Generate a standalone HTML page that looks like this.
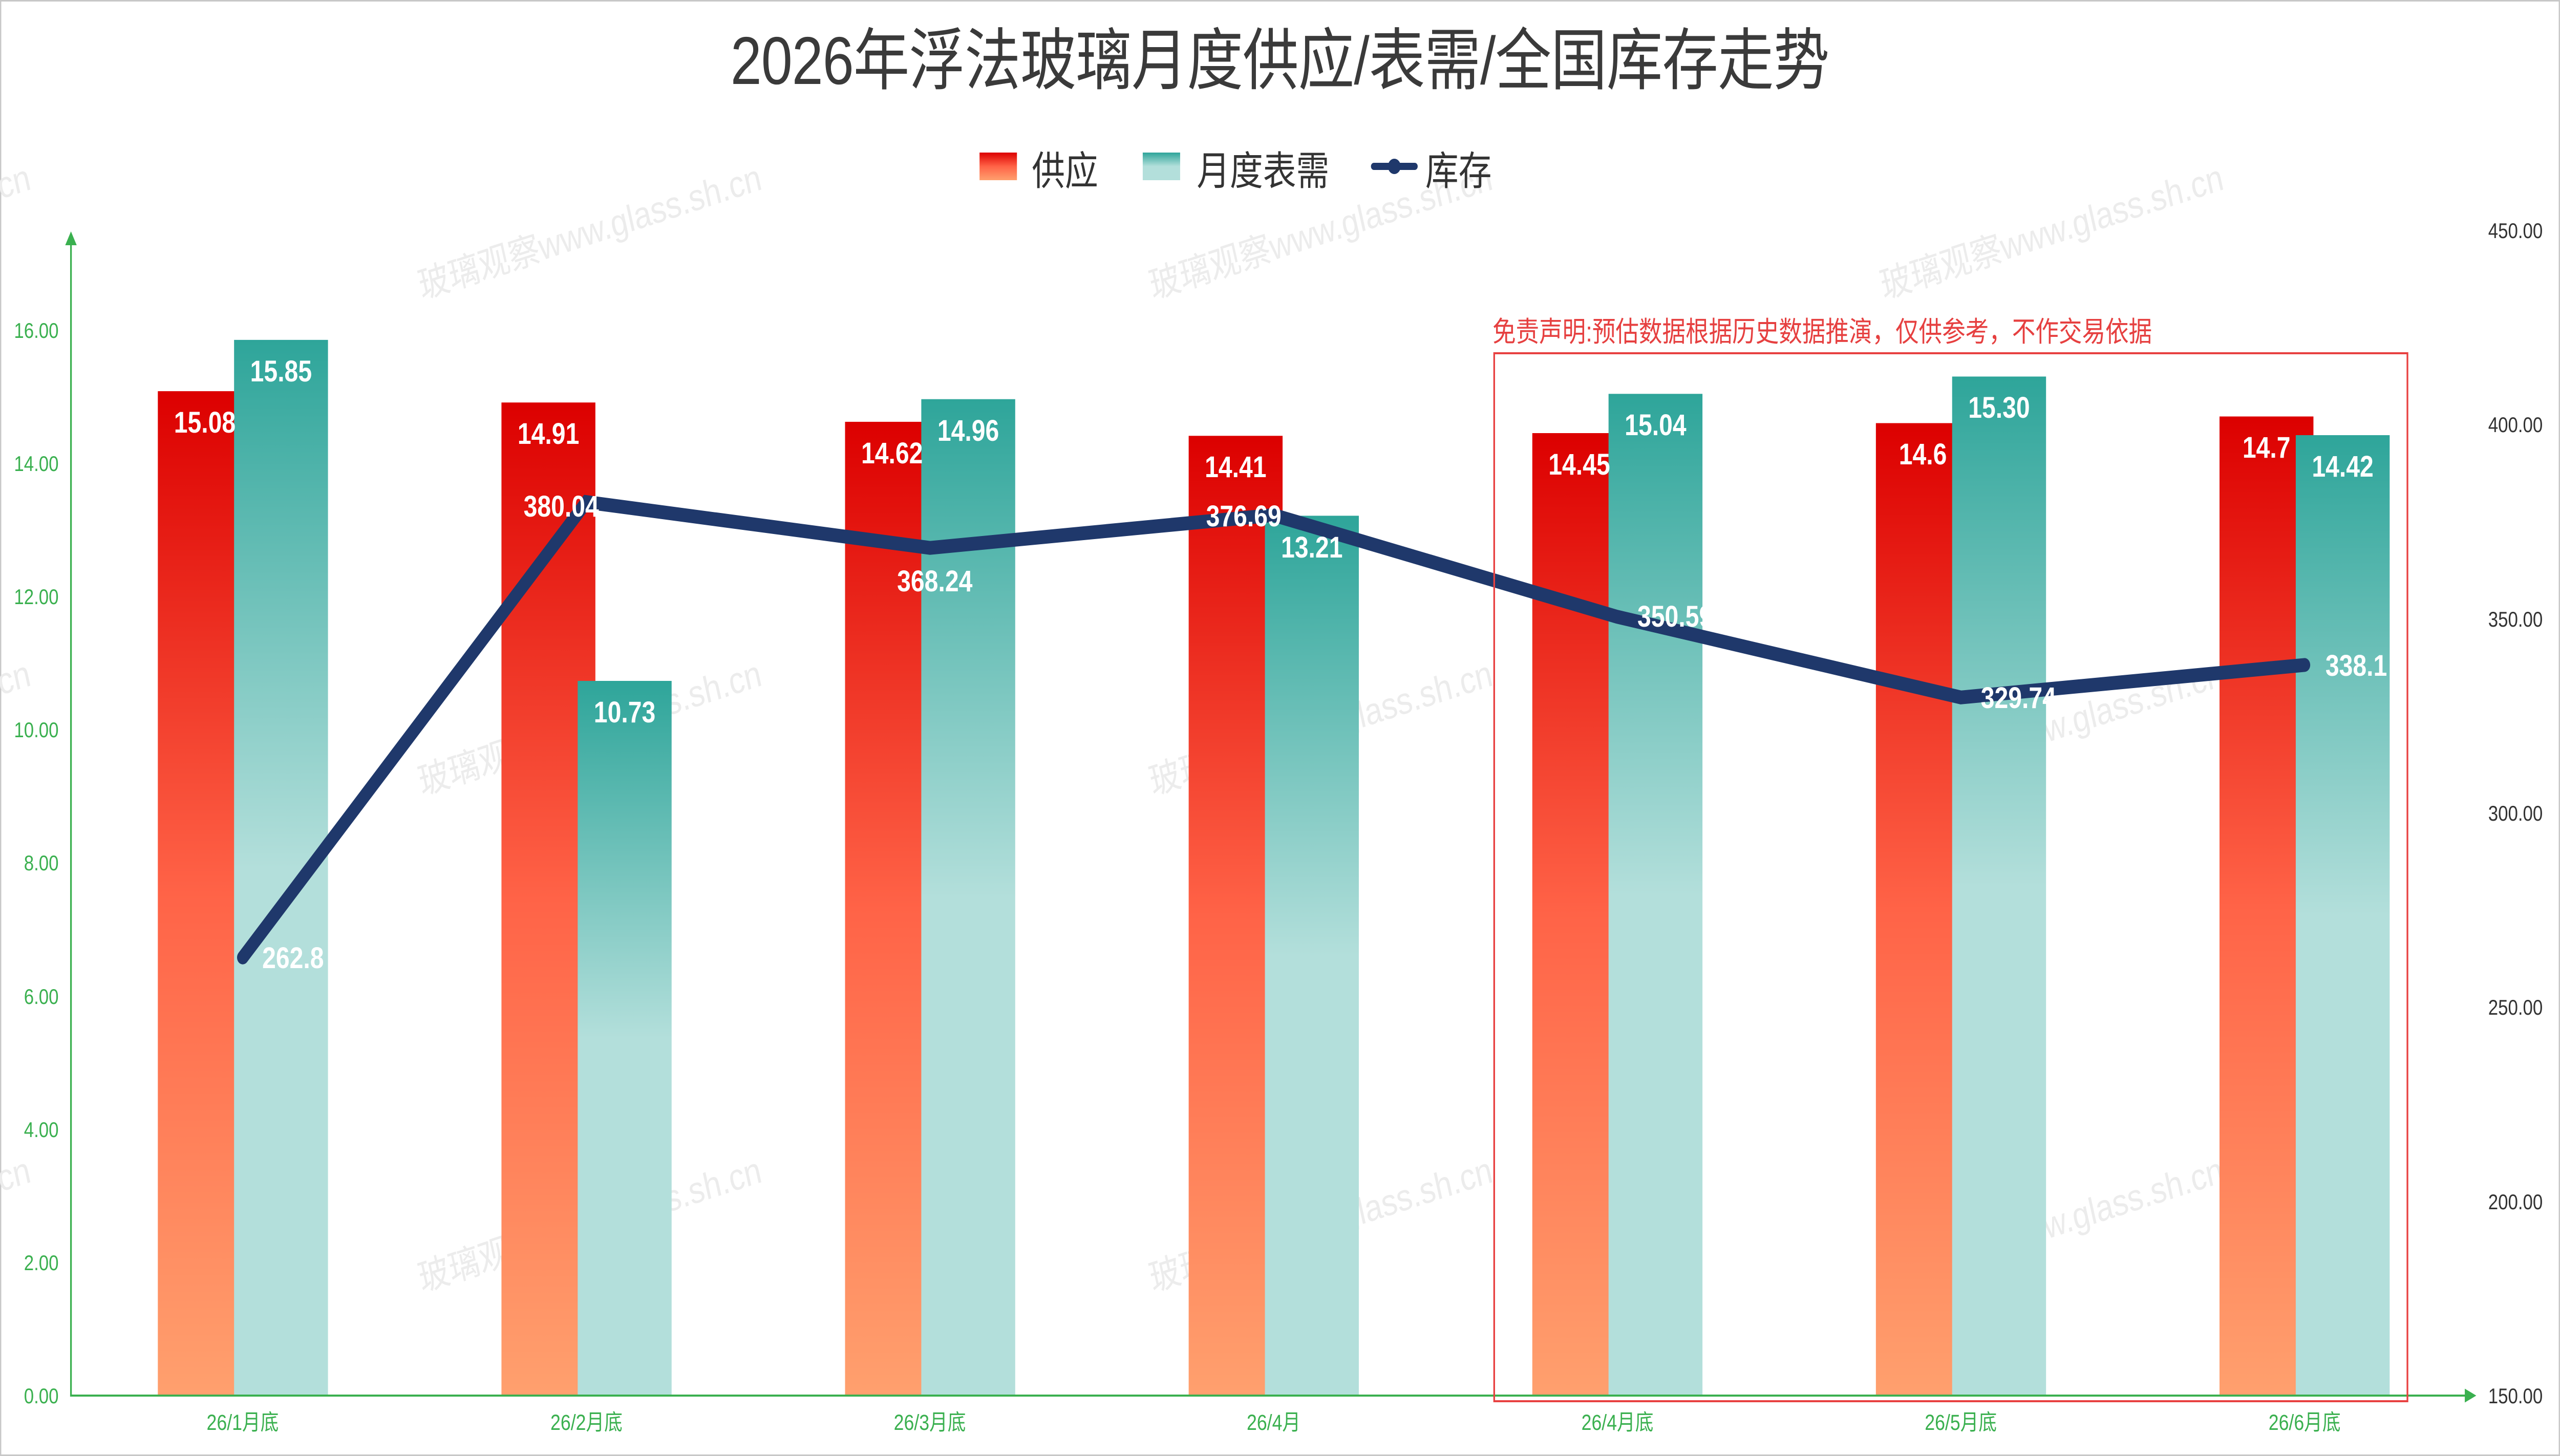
<!DOCTYPE html>
<html>
<head>
<meta charset="utf-8">
<style>
html,body{margin:0;padding:0;background:#fff;width:100%;height:100%;overflow:hidden;}
svg{display:block;width:100vw;height:100vh;}
</style>
</head>
<body>
<svg xmlns="http://www.w3.org/2000/svg" viewBox="0 0 6024 2844" preserveAspectRatio="none" font-family="'Liberation Sans','Noto Sans CJK SC',sans-serif">
<defs>
<linearGradient id="gr" x1="0" y1="0" x2="0" y2="1">
<stop offset="0" stop-color="#dc0000"/>
<stop offset="0.5" stop-color="#ff6347"/>
<stop offset="1" stop-color="#ffa06e"/>
</linearGradient>
<linearGradient id="gt" x1="0" y1="0" x2="0" y2="1">
<stop offset="0" stop-color="#2ea59a"/>
<stop offset="0.5" stop-color="#b3dfdb"/>
<stop offset="1" stop-color="#b3dfdb"/>
</linearGradient>
</defs>
<rect x="0" y="0" width="6024" height="2844" fill="#fff"/>
<rect x="1.5" y="1.5" width="6021" height="2841" fill="none" stroke="#c8c8c8" stroke-width="3"/>

<!-- watermarks -->
<g fill="#ececec" font-size="73" text-anchor="middle" dominant-baseline="central">
<text transform="translate(-332,453) rotate(-15)">玻璃观察www.glass.sh.cn</text>
<text transform="translate(1388,453) rotate(-15)">玻璃观察www.glass.sh.cn</text>
<text transform="translate(3108,453) rotate(-15)">玻璃观察www.glass.sh.cn</text>
<text transform="translate(4828,453) rotate(-15)">玻璃观察www.glass.sh.cn</text>
<text transform="translate(-332,1422) rotate(-15)">玻璃观察www.glass.sh.cn</text>
<text transform="translate(1388,1422) rotate(-15)">玻璃观察www.glass.sh.cn</text>
<text transform="translate(3108,1422) rotate(-15)">玻璃观察www.glass.sh.cn</text>
<text transform="translate(4828,1422) rotate(-15)">玻璃观察www.glass.sh.cn</text>
<text transform="translate(-332,2392) rotate(-15)">玻璃观察www.glass.sh.cn</text>
<text transform="translate(1388,2392) rotate(-15)">玻璃观察www.glass.sh.cn</text>
<text transform="translate(3108,2392) rotate(-15)">玻璃观察www.glass.sh.cn</text>
<text transform="translate(4828,2392) rotate(-15)">玻璃观察www.glass.sh.cn</text>
</g>

<!-- title -->
<text x="3012" y="164" font-size="132" fill="#3a3a3a" text-anchor="middle" textLength="2586" lengthAdjust="spacing">2026年浮法玻璃月度供应/表需/全国库存走势</text>

<!-- legend -->
<rect x="2305" y="298" width="88" height="54" fill="url(#gr)"/>
<text x="2428" y="361" font-size="78" fill="#333">供应</text>
<rect x="2689" y="298" width="88" height="54" fill="url(#gt)"/>
<text x="2816" y="361" font-size="78" fill="#333">月度表需</text>
<line x1="3233" y1="325" x2="3329" y2="325" stroke="#1f386b" stroke-width="14" stroke-linecap="round"/>
<circle cx="3281" cy="325" r="15" fill="#1f386b"/>
<text x="3354" y="361" font-size="78" fill="#333">库存</text>

<!-- bars supply -->
<g fill="url(#gr)">
<rect x="371.4" y="764.1" width="221" height="1961.9"/>
<rect x="1180.0" y="786.2" width="221" height="1939.8"/>
<rect x="1988.5" y="823.9" width="221" height="1902.1"/>
<rect x="2797.1" y="851.3" width="221" height="1874.7"/>
<rect x="3605.7" y="846.0" width="221" height="1880.0"/>
<rect x="4414.2" y="826.5" width="221" height="1899.5"/>
<rect x="5222.8" y="813.5" width="221" height="1912.5"/>
</g>
<!-- bars demand -->
<g fill="url(#gt)">
<rect x="550.8" y="663.9" width="221" height="2062.1"/>
<rect x="1359.4" y="1330.0" width="221" height="1396.0"/>
<rect x="2167.9" y="779.7" width="221" height="1946.3"/>
<rect x="2976.5" y="1007.4" width="221" height="1718.6"/>
<rect x="3785.1" y="769.3" width="221" height="1956.7"/>
<rect x="4593.6" y="735.5" width="221" height="1990.5"/>
<rect x="5402.2" y="850.0" width="221" height="1876.0"/>
</g>

<!-- axes -->
<g stroke="#3ab04f" stroke-width="4" fill="none">
<line x1="167" y1="2728" x2="167" y2="476"/>
<line x1="165" y1="2726" x2="5803" y2="2726"/>
</g>
<polygon points="153.5,479 167,452 180.5,479" fill="#3ab04f"/>
<polygon points="5800,2712.5 5827,2726 5800,2739.5" fill="#3ab04f"/>

<!-- left ticks -->
<g font-size="42" fill="#3ab04f" text-anchor="end">
<text x="138" y="2741">0.00</text>
<text x="138" y="2481">2.00</text>
<text x="138" y="2221">4.00</text>
<text x="138" y="1961">6.00</text>
<text x="138" y="1700">8.00</text>
<text x="138" y="1440">10.00</text>
<text x="138" y="1180">12.00</text>
<text x="138" y="920">14.00</text>
<text x="138" y="660">16.00</text>
</g>
<!-- right ticks -->
<g font-size="42" fill="#333">
<text x="5855" y="2741">150.00</text>
<text x="5855" y="2362">200.00</text>
<text x="5855" y="1982">250.00</text>
<text x="5855" y="1603">300.00</text>
<text x="5855" y="1224">350.00</text>
<text x="5855" y="844">400.00</text>
<text x="5855" y="465">450.00</text>
</g>
<!-- x labels -->
<g font-size="43" fill="#3ab04f" text-anchor="middle">
<text x="571" y="2793">26/1月底</text>
<text x="1380" y="2793">26/2月底</text>
<text x="2188" y="2793">26/3月底</text>
<text x="2997" y="2793">26/4月</text>
<text x="3806" y="2793">26/4月底</text>
<text x="4614" y="2793">26/5月底</text>
<text x="5423" y="2793">26/6月底</text>
</g>

<!-- line -->
<polyline points="571.3,1870.2 1379.9,980.7 2188.4,1070.2 2997.0,1006.1 3805.6,1204.8 4614.1,1362.3 5422.7,1298.9" fill="none" stroke="#1f386b" stroke-width="27" stroke-linecap="round" stroke-linejoin="miter"/>

<!-- bar labels -->
<g font-size="58" font-weight="bold" fill="#fff" text-anchor="middle">
<text x="481.9" y="845">15.08</text>
<text x="1290.5" y="867">14.91</text>
<text x="2099.0" y="905">14.62</text>
<text x="2907.6" y="932">14.41</text>
<text x="3716.2" y="927">14.45</text>
<text x="4524.7" y="907">14.6</text>
<text x="5333.3" y="894">14.7</text>
<text x="661.3" y="745">15.85</text>
<text x="1469.9" y="1411">10.73</text>
<text x="2278.4" y="861">14.96</text>
<text x="3087.0" y="1089">13.21</text>
<text x="3895.6" y="850">15.04</text>
<text x="4704.1" y="816">15.30</text>
<text x="5512.7" y="931">14.42</text>
</g>

<!-- line labels -->
<g font-size="58" font-weight="bold" fill="#fff">
<text x="617" y="1891">262.8</text>
<text x="1232" y="1009">380.04</text>
<text x="2111" y="1155">368.24</text>
<text x="2838" y="1028">376.69</text>
<text x="3853" y="1224">350.59</text>
<text x="4661" y="1383">329.74</text>
<text x="5472" y="1320">338.1</text>
</g>

<!-- disclaimer box -->
<rect x="3516" y="690" width="2149" height="2047" fill="none" stroke="#e84141" stroke-width="4"/>
<text x="3512" y="667" font-size="55" fill="#e64040" textLength="1552" lengthAdjust="spacing">免责声明:预估数据根据历史数据推演，仅供参考，不作交易依据</text>
</svg>
</body>
</html>
